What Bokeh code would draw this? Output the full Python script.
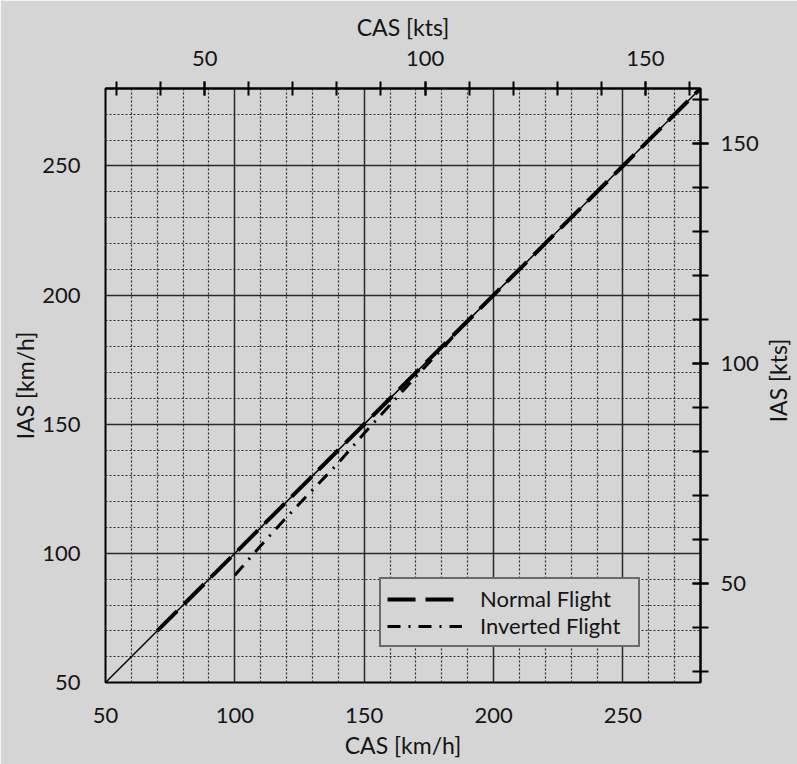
import math
from bokeh.plotting import figure
from bokeh.models import Range1d, LinearAxis, FixedTicker, Legend, LegendItem, Label
from bokeh.embed import file_html
from bokeh.resources import INLINE

# ---- data ----
cas_ref = [50, 280]
ias_ref = [50, 280]

cas_normal = [70, 100, 150, 200, 250, 280]
ias_normal = [70, 100, 150, 200, 250, 280]

cas_inverted = [100, 110, 120, 130, 140, 150, 160, 170, 180, 188]
ias_inverted = [91.5, 103, 114, 124.5, 135, 146.5, 157.5, 168.5, 179, 188]

kmh_ticks = [50, 100, 150, 200, 250]
kmh_minor = [60, 70, 80, 90, 110, 120, 130, 140, 160, 170, 180, 190,
             210, 220, 230, 240, 260, 270]
kts_ticks = [50, 100, 150]
kts_minor = [30, 40, 50, 60, 70, 80, 90, 100, 110, 120, 130, 140, 150, 160]

BG = "#d5d5d5"
TXT = "#141414"
FONT = "Lato"

p = figure(width=797, height=764,
           x_range=Range1d(50, 280), y_range=Range1d(50, 280),
           output_backend="svg", toolbar_location=None,
           min_border_left=105, min_border_right=97,
           min_border_top=88, min_border_bottom=82,
           background_fill_color=BG, border_fill_color=BG)
p.extra_x_ranges = {"kts": Range1d(27.5, 162.5)}
p.extra_y_ranges = {"kts": Range1d(27.5, 162.5)}

p.outline_line_color = "black"
p.outline_line_width = 2

def style_axis(ax):
    ax.major_label_text_font = FONT
    ax.major_label_text_font_size = "22px"
    ax.major_label_text_color = TXT
    ax.axis_label_text_font = FONT
    ax.axis_label_text_font_size = "23px"
    ax.axis_label_text_font_style = "normal"
    ax.axis_label_text_color = TXT

# bottom axis
bx = p.xaxis[0]
bx.ticker = FixedTicker(ticks=kmh_ticks, minor_ticks=kmh_minor)
bx.axis_label = "CAS [km/h]"
style_axis(bx)
bx.major_tick_in = 0; bx.major_tick_out = 0
bx.minor_tick_in = 0; bx.minor_tick_out = 0
bx.axis_line_color = None
bx.major_label_standoff = 25
bx.axis_label_standoff = 5

# left axis
ly = p.yaxis[0]
ly.ticker = FixedTicker(ticks=kmh_ticks, minor_ticks=kmh_minor)
ly.axis_label = "IAS [km/h]"
style_axis(ly)
ly.major_tick_in = 0; ly.major_tick_out = 0
ly.minor_tick_in = 0; ly.minor_tick_out = 0
ly.axis_line_color = None
ly.major_label_standoff = 25
ly.axis_label_standoff = 0

# grids
for g in (p.xgrid[0], p.ygrid[0]):
    g.grid_line_color = "#2a2a2a"
    g.grid_line_width = 1.5
    g.minor_grid_line_color = "#2a2a2a"
    g.minor_grid_line_width = 1.2
    g.minor_grid_line_dash = "2 2"

# top axis (kts)
tx = LinearAxis(x_range_name="kts",
                ticker=FixedTicker(ticks=kts_ticks, minor_ticks=kts_minor),
                axis_label="CAS [kts]")
style_axis(tx)
tx.axis_line_color = "black"; tx.axis_line_width = 2
tx.major_tick_in = 7; tx.major_tick_out = 7
tx.minor_tick_in = 7; tx.minor_tick_out = 7
tx.major_tick_line_width = 2; tx.minor_tick_line_width = 2
tx.major_tick_line_color = "black"; tx.minor_tick_line_color = "black"
tx.major_label_standoff = 16
tx.axis_label_standoff = 7
p.add_layout(tx, "above")

# right axis (kts) : ticks and numbers
ry = LinearAxis(y_range_name="kts",
                ticker=FixedTicker(ticks=kts_ticks, minor_ticks=kts_minor))
style_axis(ry)
ry.axis_line_color = "black"; ry.axis_line_width = 2
ry.major_tick_in = 8; ry.major_tick_out = 8
ry.minor_tick_in = 8; ry.minor_tick_out = 8
ry.major_tick_line_width = 2; ry.minor_tick_line_width = 2
ry.major_tick_line_color = "black"; ry.minor_tick_line_color = "black"
ry.major_label_standoff = 12
p.add_layout(ry, "right")

# right axis title (reads bottom-to-top), placed in the right side panel
p.add_layout(Label(x=16, y=302, x_units="screen", y_units="screen",
                   text="IAS [kts]", angle=math.pi / 2,
                   text_align="center", text_baseline="middle",
                   text_font=FONT, text_font_size="23px", text_color=TXT),
             "right")

# curves
p.line(cas_ref, ias_ref, line_color="black", line_width=1.5)
r_norm = p.line(cas_normal, ias_normal, line_color="black", line_width=4,
                line_dash="28 10")
r_inv = p.line(cas_inverted, ias_inverted, line_color="black", line_width=3,
               line_dash="13 8 2 8")

legend = Legend(items=[LegendItem(label="Normal Flight", renderers=[r_norm]),
                       LegendItem(label="Inverted Flight", renderers=[r_inv])],
                location=(274, 35))
legend.border_line_color = "black"
legend.border_line_width = 2
legend.background_fill_color = BG
legend.background_fill_alpha = 1
legend.label_text_font = FONT
legend.label_text_font_size = "22px"
legend.label_text_color = TXT
legend.glyph_width = 75
legend.label_standoff = 18
legend.label_width = 152
legend.padding = 6
legend.spacing = 0
legend.margin = 0
p.add_layout(legend)

open("out.html", "w").write(file_html(p, INLINE))
